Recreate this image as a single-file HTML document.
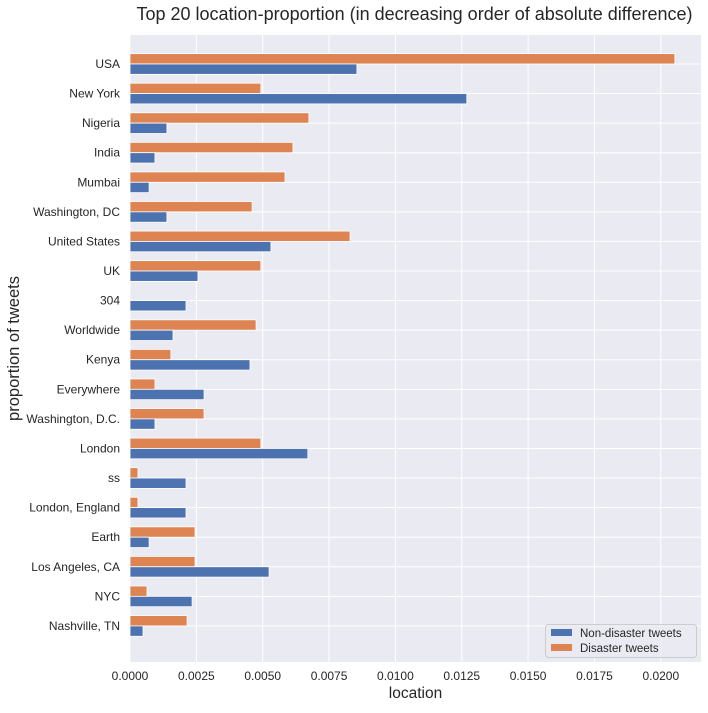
<!DOCTYPE html>
<html><head><meta charset="utf-8"><style>
body{margin:0;background:#fff;font-family:"Liberation Sans","DejaVu Sans",sans-serif;}
</style></head><body>
<svg id="chart" width="708" height="708" xmlns="http://www.w3.org/2000/svg"></svg>
<script>
const categories=["USA","New York","Nigeria","India","Mumbai","Washington, DC","United States","UK","304","Worldwide","Kenya","Everywhere","Washington, D.C.","London","ss","London, England","Earth","Los Angeles, CA","NYC","Nashville, TN"];
const nonDisaster=[0.00855,0.01269,0.00139,0.00094,0.00072,0.00139,0.00531,0.00256,0.00211,0.00162,0.00452,0.00279,0.00094,0.0067,0.00211,0.00211,0.00072,0.00524,0.00234,0.00049];
const disaster=[0.02053,0.00493,0.00674,0.00614,0.00584,0.0046,0.00829,0.00493,0,0.00475,0.00154,0.00094,0.00279,0.00493,0.0003,0.0003,0.00245,0.00245,0.00064,0.00215];
const xTicks=[0,0.0025,0.005,0.0075,0.01,0.0125,0.015,0.0175,0.02];
const xTickLabels=["0.0000","0.0025","0.0050","0.0075","0.0100","0.0125","0.0150","0.0175","0.0200"];

const NS="http://www.w3.org/2000/svg";
const svg=document.getElementById('chart');
const L=130,R=701,T=35,B=662;
const x=v=>L+v*26540;
const rowH=(B-T)/21.2;
const y=i=>T+rowH*(i+0.98);
function mk(tag,attrs,parent){const e=document.createElementNS(NS,tag);for(const k in attrs)e.setAttribute(k,attrs[k]);(parent||svg).appendChild(e);return e;}
const bg=mk('rect',{x:L,y:T,width:R-L,height:B-T,fill:'#eaeaf2'});


xTicks.forEach((t,i)=>{
  const g=mk('line',{x1:x(t),x2:x(t),y1:T,y2:B,stroke:'#fff','stroke-width':1});
  
  
  const tx=mk('text',{x:x(t),y:B+18,'text-anchor':'middle','font-size':12,fill:'#262626'});
  tx.textContent=xTickLabels[i];
  
  
});
categories.forEach((c,i)=>{
  const g=mk('line',{x1:L,x2:R,y1:y(i),y2:y(i),stroke:'#fff','stroke-width':1});
  
  
  const tx=mk('text',{x:L-10,y:y(i)+4,'text-anchor':'end','font-size':12,fill:'#262626'});
  tx.textContent=c;
  
  
});
const bh=rowH*0.35;
categories.forEach((c,i)=>{
  const o=mk('rect',{x:L,y:y(i)-bh,width:x(disaster[i])-L,height:bh,fill:'#dd8452',stroke:'#fff','stroke-width':0.8});
  
  
  const b=mk('rect',{x:L,y:y(i),width:x(nonDisaster[i])-L,height:bh,fill:'#4c72b0',stroke:'#fff','stroke-width':0.8});
  
  
});
const title=mk('text',{x:(L+R)/2-1,y:20,'text-anchor':'middle','font-size':18,fill:'#262626'});
title.textContent='Top 20 location-proportion (in decreasing order of absolute difference)';


const xl=mk('text',{x:(L+R)/2,y:698,'text-anchor':'middle','font-size':15.5,fill:'#262626'});
xl.textContent='location';


const yl=mk('text',{x:19,y:(T+B)/2,'text-anchor':'middle','font-size':16.5,fill:'#262626',transform:`rotate(-90 19 ${(T+B)/2})`});
yl.textContent='proportion of tweets';


const lg=mk('g',{});


mk('rect',{x:545.5,y:624.5,width:151,height:33,rx:3,fill:'#eaeaf2',stroke:'#ccc','fill-opacity':0.8},lg);
const items=[['#4c72b0','Non-disaster tweets'],['#dd8452','Disaster tweets']];
items.forEach((it,k)=>{
  const e=mk('g',{},lg);
  
  
  mk('rect',{x:551,y:629+k*15,width:21,height:7,fill:it[0]},e);
  const t=mk('text',{x:580,y:637+k*15,'font-size':11.5,fill:'#262626'},e);
  t.textContent=it[1];
});
</script>
</body></html>
